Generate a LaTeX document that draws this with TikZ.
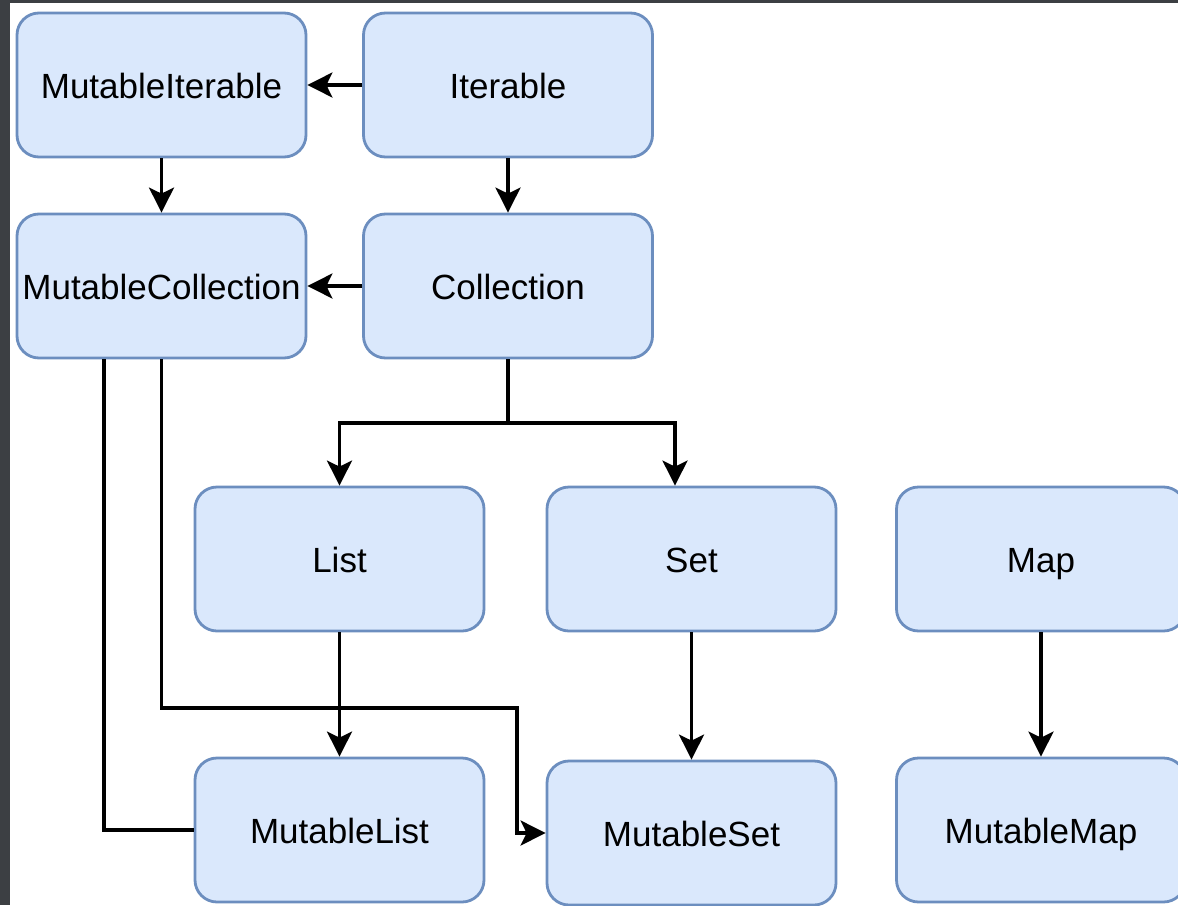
\documentclass[tikz,border=0pt]{standalone}
\usepackage{fontspec}
\setmainfont{Liberation Sans}
\usetikzlibrary{arrows.meta}
\definecolor{boxfill}{HTML}{DAE8FC}
\definecolor{boxline}{HTML}{6C8EBF}
\definecolor{darkbg}{RGB}{60,63,67}
\tikzset{
  cls/.style={draw=boxline, fill=boxfill, line width=2.8pt, rounded corners=22pt,
    minimum width=289pt, minimum height=144pt, inner sep=0pt,
    text height=31pt, text depth=5pt,
    font=\fontsize{35}{40}\selectfont, text=black},
  arr/.style={draw=black, line width=3.2pt,
    -{Stealth[length=25pt,width=25pt,inset=6pt]}},
  plain/.style={draw=black, line width=3.2pt}
}
\begin{document}
\begin{tikzpicture}[x=1pt,y=-1pt]
\useasboundingbox (0,0) rectangle (1178,905);
\clip (0,0) rectangle (1178,905);
\fill[white] (0,0) rectangle (1178,905);
\fill[darkbg] (0,0) rectangle (10,905);
\fill[darkbg] (0,0) rectangle (1178,3);

\node[cls] (mi) at (161.5,85) {MutableIterable};
\node[cls] (it) at (508,85) {Iterable};
\node[cls] (mc) at (161.5,286) {MutableCollection};
\node[cls] (co) at (508,286) {Collection};
\node[cls] (li) at (339.5,559) {List};
\node[cls] (se) at (691.5,559) {Set};
\node[cls] (ma) at (1041,559) {Map};
\node[cls] (ml) at (339.5,830) {MutableList};
\node[cls] (ms) at (691.5,833) {MutableSet};
\node[cls] (mm) at (1041,830) {MutableMap};

\coordinate (cj) at (508,423);
\coordinate (b1) at (161.5,708);
\coordinate (b2) at (517,708);

\draw[arr] (it.west) -- (mi.east);
\draw[arr] (mi.south) -- (mc.north);
\draw[arr] (it.south) -- (co.north);
\draw[arr] (co.west) -- (mc.east);
\draw[plain] (co.south) -- (cj);
\draw[arr] (cj) -| (li.north);
\draw[arr] (cj) -| ([xshift=-16.5pt]se.north);
\draw[arr] (mc.south) -- (b1) -- (b2) |- (ms.west);
\draw[plain] ([xshift=-57.5pt]mc.south) |- (ml.west);
\draw[arr] (li.south) -- (ml.north);
\draw[arr] (se.south) -- (ms.north);
\draw[arr] (ma.south) -- (mm.north);
\end{tikzpicture}
\end{document}
